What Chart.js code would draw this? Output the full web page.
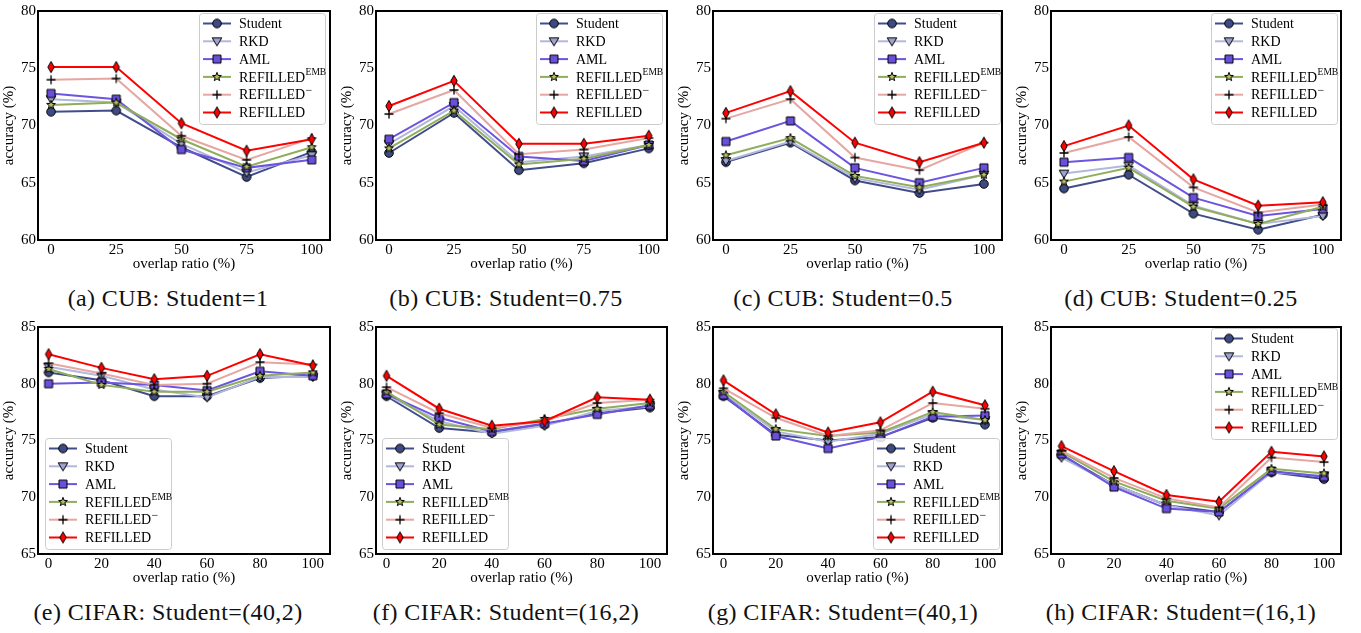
<!DOCTYPE html>
<html>
<head>
<meta charset="utf-8">
<script src="https://cdn.jsdelivr.net/npm/chart.js@4.4.1/dist/chart.umd.min.js"></script>
<style>
  body { margin: 0; background: #fff; width: 1361px; height: 633px; position: relative; overflow: hidden; }
  canvas.panel { position: absolute; }
  .caption { position: absolute; font-family: "Liberation Serif", serif; font-size: 24px; letter-spacing: 0.4px;
             white-space: nowrap; transform: translate(-50%, -50%); color: #111; line-height: 1; }
</style>
</head>
<body>
<script>
// Series (same order in every panel)
const seriesNames = ['Student', 'RKD', 'AML', 'REFILLED^EMB', 'REFILLED^\u2212', 'REFILLED'];
const lineColors = ['#414d8b', '#b3b7dc', '#6c55e0', '#8fae5c', '#e6a6a2', '#ff0000'];
const markerFills = ['#3e4a82', '#9ea3cf', '#6a4fdc', '#b8c060', '#000000', '#ff0000'];
const markerKinds = ['circle', 'triDown', 'square', 'star', 'plus', 'thinDiamond'];

// x categories / tick labels
const cubRatios = [0, 25, 50, 75, 100];
const cifarRatios = [0, 20, 40, 60, 80, 100];
const cubTicksY = [60, 65, 70, 75, 80];
const cifarTicksY = [65, 70, 75, 80, 85];

// (a) CUB: Student=1   rows: Student, RKD, AML, EMB, REFILLED-, REFILLED
const cubStudent1 = [
  [71.2, 71.3, 68.1, 65.5, 67.7],
  [72.3, 72.0, 68.4, 65.9, 67.4],
  [72.8, 72.3, 67.9, 66.3, 67.0],
  [71.8, 72.0, 68.8, 66.4, 68.1],
  [74.0, 74.1, 69.1, 67.0, 68.9],
  [75.1, 75.1, 70.2, 67.8, 68.8]
];
// (b) CUB: Student=0.75
const cubStudent075 = [
  [67.6, 71.1, 66.1, 66.7, 68.0],
  [68.4, 71.7, 66.8, 67.3, 68.3],
  [68.8, 72.0, 67.3, 66.9, 68.3],
  [68.0, 71.3, 66.6, 67.1, 68.3],
  [71.0, 73.1, 67.5, 67.9, 68.9],
  [71.7, 73.9, 68.4, 68.4, 69.1]
];
// (c) CUB: Student=0.5
const cubStudent05 = [
  [66.8, 68.5, 65.2, 64.1, 64.9],
  [66.9, 68.6, 65.4, 64.4, 65.7],
  [68.6, 70.4, 66.3, 65.0, 66.3],
  [67.4, 68.9, 65.6, 64.6, 65.7],
  [70.6, 72.3, 67.2, 66.1, 68.5],
  [71.1, 73.0, 68.5, 66.8, 68.5]
];
// (d) CUB: Student=0.25
const cubStudent025 = [
  [64.5, 65.7, 62.3, 60.9, 62.2],
  [65.8, 66.5, 63.0, 61.4, 62.1],
  [66.8, 67.2, 63.7, 62.1, 62.7],
  [65.1, 66.3, 62.9, 61.4, 62.9],
  [67.6, 69.0, 64.6, 62.4, 63.1],
  [68.2, 70.0, 65.3, 63.0, 63.3]
];
// (e) CIFAR: Student=(40,2)
const cifar40x2 = [
  [81.0, 80.3, 78.9, 78.9, 80.5, 80.7],
  [81.5, 80.7, 79.5, 78.8, 80.6, 80.6],
  [80.0, 80.1, 79.9, 79.4, 81.1, 80.7],
  [81.3, 79.9, 79.3, 79.3, 80.7, 81.0],
  [81.8, 80.9, 79.9, 80.0, 81.9, 81.7],
  [82.6, 81.4, 80.4, 80.7, 82.6, 81.6]
];
// (f) CIFAR: Student=(16,2)
const cifar16x2 = [
  [78.9, 76.1, 75.7, 76.4, 77.4, 77.9],
  [79.0, 76.7, 75.6, 76.3, 77.6, 78.0],
  [79.1, 77.0, 75.8, 76.5, 77.3, 78.1],
  [79.3, 76.4, 76.0, 76.9, 77.8, 78.3],
  [79.7, 77.4, 76.1, 76.7, 78.3, 78.6],
  [80.7, 77.8, 76.3, 76.7, 78.8, 78.6]
];
// (g) CIFAR: Student=(40,1)
const cifar40x1 = [
  [78.9, 75.5, 75.0, 75.3, 77.0, 76.4],
  [79.1, 75.8, 74.9, 75.6, 77.3, 76.8],
  [79.0, 75.4, 74.3, 75.3, 77.1, 77.2],
  [79.3, 76.0, 75.4, 75.7, 77.5, 76.8],
  [79.6, 77.0, 75.4, 75.9, 78.3, 77.8],
  [80.3, 77.3, 75.7, 76.6, 79.3, 78.1]
];
// (h) CIFAR: Student=(16,1)
const cifar16x1 = [
  [73.7, 71.1, 69.3, 68.7, 72.2, 71.6],
  [73.5, 71.1, 69.3, 68.4, 72.2, 71.9],
  [73.8, 70.9, 69.0, 68.7, 72.3, 71.8],
  [74.0, 71.4, 69.7, 69.0, 72.5, 72.1],
  [74.1, 71.7, 69.9, 69.1, 73.5, 73.1],
  [74.5, 72.3, 70.2, 69.6, 74.0, 73.6]
];

// layout of the 2x4 grid (page pixels)
const colLeft = [38, 376, 713, 1051];
const colWidth = [295, 294, 292, 293];
const rowTop = [6, 322];
const rowHeight = [234, 232];
const captionX = [168, 506, 843, 1181];
const captionY = [298, 612];
const xRange = [[-5, 107], [-4, 106.5]];
const Y_AXIS_W = 38, PAD_T = 6, PAD_R = 4, X_AXIS_H = 33;

const panels = [
  { caption: '(a) CUB: Student=1',        row: 0, col: 0, x: cubRatios,   values: cubStudent1,   yTicks: cubTicksY,   legend: [199, 13] },
  { caption: '(b) CUB: Student=0.75',     row: 0, col: 1, x: cubRatios,   values: cubStudent075, yTicks: cubTicksY,   legend: [536, 13] },
  { caption: '(c) CUB: Student=0.5',      row: 0, col: 2, x: cubRatios,   values: cubStudent05,  yTicks: cubTicksY,   legend: [874, 13] },
  { caption: '(d) CUB: Student=0.25',     row: 0, col: 3, x: cubRatios,   values: cubStudent025, yTicks: cubTicksY,   legend: [1211, 13] },
  { caption: '(e) CIFAR: Student=(40,2)', row: 1, col: 0, x: cifarRatios, values: cifar40x2,     yTicks: cifarTicksY, legend: [45, 438] },
  { caption: '(f) CIFAR: Student=(16,2)', row: 1, col: 1, x: cifarRatios, values: cifar16x2,     yTicks: cifarTicksY, legend: [382, 438] },
  { caption: '(g) CIFAR: Student=(40,1)', row: 1, col: 2, x: cifarRatios, values: cifar40x1,     yTicks: cifarTicksY, legend: [873, 438] },
  { caption: '(h) CIFAR: Student=(16,1)', row: 1, col: 3, x: cifarRatios, values: cifar16x1,     yTicks: cifarTicksY, legend: [1211, 328] }
];

// matplotlib-like markers drawn once into small canvases
function makeMarker(kind, fill) {
  const s = 14, c = document.createElement('canvas');
  c.width = c.height = s;
  const g = c.getContext('2d');
  g.translate(s / 2, s / 2);
  g.strokeStyle = '#000';
  g.fillStyle = fill;
  g.lineWidth = 1;
  g.beginPath();
  if (kind === 'circle') {
    g.arc(0, 0, 4.3, 0, Math.PI * 2);
  } else if (kind === 'triDown') {
    g.moveTo(-4.8, -3.4); g.lineTo(4.8, -3.4); g.lineTo(0, 4.6); g.closePath();
  } else if (kind === 'square') {
    g.rect(-4, -4, 8, 8);
  } else if (kind === 'star') {
    for (let i = 0; i < 10; i++) {
      const r = i % 2 ? 1.9 : 4.6;
      const a = -Math.PI / 2 + i * Math.PI / 5;
      if (i === 0) g.moveTo(r * Math.cos(a), r * Math.sin(a));
      else g.lineTo(r * Math.cos(a), r * Math.sin(a));
    }
    g.closePath();
  } else if (kind === 'plus') {
    g.lineWidth = 1.3;
    g.moveTo(-4.5, 0); g.lineTo(4.5, 0);
    g.moveTo(0, -4.5); g.lineTo(0, 4.5);
    g.stroke();
    return c;
  } else if (kind === 'thinDiamond') {
    g.moveTo(0, -5.6); g.lineTo(3.2, 0); g.lineTo(0, 5.6); g.lineTo(-3.2, 0); g.closePath();
  }
  g.fill();
  g.stroke();
  return c;
}
const markers = markerKinds.map((k, i) => makeMarker(k, markerFills[i]));

const framePlugin = {
  id: 'frame',
  afterDatasetsDraw(chart) {
    const { ctx, chartArea: a } = chart;
    ctx.save();
    ctx.strokeStyle = '#000';
    ctx.lineWidth = 2;
    ctx.strokeRect(a.left, a.top, a.right - a.left, a.bottom - a.top);
    ctx.restore();
  }
};

// legend box like matplotlib's (line + marker + label with superscript)
const boxLegend = {
  id: 'boxLegend',
  afterDraw(chart, args, opts) {
    const ctx = chart.ctx;
    const x = opts.x, y = opts.y, w = 126, h = 111, step = 17.8;
    ctx.save();
    ctx.beginPath();
    ctx.roundRect(x + 0.5, y + 0.5, w, h, 3);
    ctx.fillStyle = 'rgba(255,255,255,0.85)';
    ctx.fill();
    ctx.strokeStyle = '#cccccc';
    ctx.lineWidth = 1;
    ctx.stroke();
    seriesNames.forEach((name, i) => {
      const cy = y + 10.5 + i * step;
      ctx.strokeStyle = lineColors[i];
      ctx.lineWidth = 2;
      ctx.beginPath();
      ctx.moveTo(x + 4, cy); ctx.lineTo(x + 32, cy);
      ctx.stroke();
      ctx.drawImage(markers[i], x + 18 - 7, cy - 7);
      const parts = name.split('^');
      ctx.fillStyle = '#000';
      ctx.textBaseline = 'middle';
      ctx.textAlign = 'left';
      ctx.font = '14px "Liberation Serif"';
      ctx.fillText(parts[0], x + 40, cy + 1);
      if (parts[1]) {
        const tw = ctx.measureText(parts[0]).width;
        ctx.font = parts[1] === 'EMB' ? '9.5px "Liberation Serif"' : '12px "Liberation Serif"';
        ctx.fillText(parts[1], x + 40 + tw + 0.5, cy - 4);
      }
    });
    ctx.restore();
  }
};

const axisFont = { family: 'Liberation Serif', size: 15 };

panels.forEach(p => {
  const left = colLeft[p.col] - Y_AXIS_W;
  const top = rowTop[p.row] - PAD_T;
  const width = Y_AXIS_W + colWidth[p.col] + PAD_R;
  const height = PAD_T + rowHeight[p.row] + X_AXIS_H;

  const canvas = document.createElement('canvas');
  canvas.className = 'panel';
  canvas.width = width;
  canvas.height = height;
  canvas.style.left = left + 'px';
  canvas.style.top = top + 'px';
  canvas.style.width = width + 'px';
  canvas.style.height = height + 'px';
  document.body.appendChild(canvas);

  const cap = document.createElement('div');
  cap.className = 'caption';
  cap.textContent = p.caption;
  cap.style.left = captionX[p.col] + 'px';
  cap.style.top = captionY[p.row] + 'px';
  document.body.appendChild(cap);

  const datasets = seriesNames.map((name, i) => ({
    label: name,
    data: p.x.map((xv, j) => ({ x: xv, y: p.values[i][j] })),
    borderColor: lineColors[i],
    backgroundColor: markerFills[i],
    borderWidth: 2,
    pointStyle: markers[i],
    pointRadius: 5,
    pointHoverRadius: 5,
    tension: 0,
    order: seriesNames.length - i
  }));

  new Chart(canvas, {
    type: 'line',
    data: { datasets },
    options: {
      responsive: false,
      animation: false,
      events: [],
      layout: { padding: { left: 0, top: PAD_T, right: PAD_R, bottom: 0 } },
      plugins: {
        legend: { display: false },
        tooltip: { enabled: false },
        boxLegend: { x: p.legend[0] - left, y: p.legend[1] - top }
      },
      scales: {
        x: {
          type: 'linear',
          min: xRange[p.row][0],
          max: xRange[p.row][1],
          afterBuildTicks: s => { s.ticks = p.x.map(v => ({ value: v })); },
          afterFit: s => { s.height = X_AXIS_H; },
          grid: { display: false, drawTicks: false },
          border: { display: false },
          ticks: { color: '#000', font: axisFont, padding: 1, maxRotation: 0, autoSkip: false },
          title: { display: true, text: 'overlap ratio (%)', color: '#000', font: axisFont, padding: 0 }
        },
        y: {
          min: p.yTicks[0],
          max: p.yTicks[p.yTicks.length - 1],
          afterBuildTicks: s => { s.ticks = p.yTicks.map(v => ({ value: v })); },
          afterFit: s => { s.width = Y_AXIS_W; },
          grid: { display: false, drawTicks: false },
          border: { display: false },
          ticks: { color: '#000', font: axisFont, padding: 2 },
          title: { display: true, text: 'accuracy (%)', color: '#000', font: axisFont, padding: { top: 0, bottom: 0 } }
        }
      }
    },
    plugins: [framePlugin, boxLegend]
  });
});
</script>
</body>
</html>
